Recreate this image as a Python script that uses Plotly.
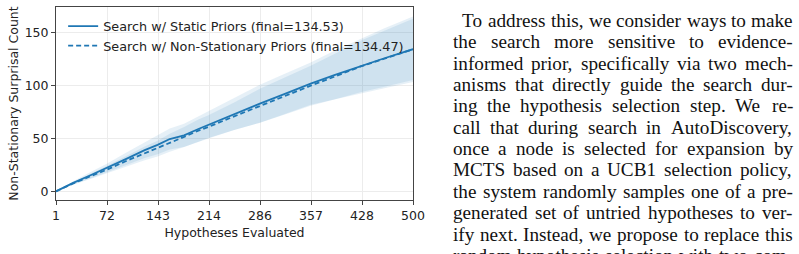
import plotly.graph_objects as go

# ---------------- data ----------------
x_pts = [1, 25, 50, 72, 100, 125, 143, 160, 180, 200, 214, 250, 286, 320, 357, 390, 428, 460, 500]
static_mean = [0, 8, 15.5, 22, 31, 39, 44, 49.5, 53, 59, 63, 73, 83, 92, 102, 110, 119, 126, 134.53]
nonstat_mean = [0, 7.5, 14.5, 20.5, 29, 36, 40.5, 46, 51.5, 57.5, 61, 71, 81, 90, 100, 108.5, 118.5, 125.5, 134.47]
static_std = [0, 1.5, 3, 4, 6, 7.5, 9, 10, 11, 12, 12.5, 15, 18, 19, 20, 23, 26, 28.5, 31]
nonstat_std = [0, 1.2, 2.5, 3.5, 5, 6.5, 7.5, 8.5, 9.5, 10.5, 11, 13, 16, 17.5, 19, 21.5, 24.5, 26.5, 29]

x_tickvals = [1 + i * 499 / 7 for i in range(8)]
x_ticktext = ["1", "72", "143", "214", "286", "357", "428", "500"]
y_tickvals = [0, 50, 100, 150]

label_static = "Search w/ Static Priors (final=134.53)"
label_nonstat = "Search w/ Non-Stationary Priors (final=134.47)"

para_lines = [
    "To address this, we consider ways to make",
    "the search more sensitive to evidence-",
    "informed prior, specifically via two mech-",
    "anisms that directly guide the search dur-",
    "ing the hypothesis selection step.  We re-",
    "call that during search in AutoDiscovery,",
    "once a node is selected for expansion by",
    "MCTS based on a UCB1 selection policy,",
    "the system randomly samples one of a pre-",
    "generated set of untried hypotheses to ver-",
    "ify next. Instead, we propose to replace this",
    "random hypothesis selection with two com-",
]

# ---------------- figure ----------------
W, H = 799, 254
PL, PR, PT, PB = 56, 413, 7, 200
BLUE = "#1f77b4"
BAND = "rgba(31,119,180,0.11)"
CHART_FONT = "DejaVu Sans"
FSC = 12.5

fig = go.Figure()

for mean, std in ((static_mean, static_std), (nonstat_mean, nonstat_std)):
    lo = [m - s for m, s in zip(mean, std)]
    hi = [m + s for m, s in zip(mean, std)]
    fig.add_trace(go.Scatter(x=x_pts, y=lo, mode="lines", line=dict(width=0),
                             showlegend=False, hoverinfo="skip"))
    fig.add_trace(go.Scatter(x=x_pts, y=hi, mode="lines", line=dict(width=0),
                             fill="tonexty", fillcolor=BAND,
                             showlegend=False, hoverinfo="skip"))

fig.add_trace(go.Scatter(x=x_pts, y=static_mean, mode="lines", name=label_static,
                         line=dict(color=BLUE, width=1.8)))
fig.add_trace(go.Scatter(x=x_pts, y=nonstat_mean, mode="lines", name=label_nonstat,
                         line=dict(color=BLUE, width=1.8, dash="5px,3px")))

axis_common = dict(
    showline=True, linecolor="#444", linewidth=1, mirror=True,
    ticks="outside", ticklen=4, tickwidth=1, tickcolor="#444",
    showgrid=True, gridcolor="#ececec", gridwidth=1,
    zeroline=False, tickfont=dict(family=CHART_FONT, size=FSC, color="#222"),
)

fig.update_layout(
    width=W, height=H,
    margin=dict(l=PL, r=W - PR, t=PT, b=H - PB, pad=0),
    paper_bgcolor="white", plot_bgcolor="white",
    font=dict(family=CHART_FONT, size=FSC, color="#222"),
    xaxis=dict(range=[1, 500], tickmode="array", tickvals=x_tickvals, ticktext=x_ticktext,
               title=dict(text="Hypotheses Evaluated", standoff=6,
                          font=dict(family=CHART_FONT, size=FSC, color="#222")),
               automargin=False, **axis_common),
    yaxis=dict(range=[-8.2, 174.5], tickmode="array", tickvals=y_tickvals,
               title=dict(text="Non-Stationary Surprisal Count", standoff=3,
                          font=dict(family=CHART_FONT, size=FSC, color="#222")),
               automargin=False, **axis_common),
    legend=dict(x=0.02, y=0.978, xanchor="left", yanchor="top",
                bgcolor="rgba(0,0,0,0)", borderwidth=0, traceorder="normal",
                font=dict(family=CHART_FONT, size=12.8, color="#222"),
                tracegroupgap=0),
    showlegend=True,
)

# ---------------- justified paragraph (Times metrics) ----------------
TW = {
    ' ': 250, 'a': 444, 'b': 500, 'c': 444, 'd': 500, 'e': 444, 'f': 333, 'g': 500, 'h': 500,
    'i': 278, 'j': 278, 'k': 500, 'l': 278, 'm': 778, 'n': 500, 'o': 500, 'p': 500, 'q': 500,
    'r': 333, 's': 389, 't': 278, 'u': 500, 'v': 500, 'w': 722, 'x': 500, 'y': 500, 'z': 444,
    'A': 722, 'B': 667, 'C': 667, 'D': 722, 'E': 611, 'F': 556, 'G': 722, 'H': 722, 'I': 333,
    'J': 389, 'K': 722, 'L': 611, 'M': 889, 'N': 722, 'O': 722, 'P': 556, 'Q': 722, 'R': 667,
    'S': 556, 'T': 611, 'U': 722, 'V': 722, 'W': 944, 'X': 722, 'Y': 722, 'Z': 611,
    ',': 250, '.': 250, '-': 333, '1': 500,
}
FS = 19.2
TEXT_L, TEXT_R, INDENT = 452, 792, 9
BASE0, LEAD = 27.0, 21.35


def wwidth(w):
    return sum(TW.get(ch, 500) for ch in w) / 1000 * FS


for k, line in enumerate(para_lines):
    words = line.split()
    left = TEXT_L + (INDENT if k == 0 else 0)
    total = sum(wwidth(w) for w in words)
    gap = (TEXT_R - left - total) / (len(words) - 1)
    baseline = BASE0 + k * LEAD
    ymid = baseline - 0.3375 * FS
    xpos = left
    for w in words:
        fig.add_annotation(
            text=w, xref="paper", yref="paper",
            x=(xpos - PL) / (PR - PL), y=(PB - ymid) / (PB - PT),
            xanchor="left", yanchor="middle", showarrow=False, borderpad=0,
            font=dict(family="Liberation Serif", size=FS, color="#111"),
        )
        xpos += wwidth(w) + gap

fig.write_html("out.html")
